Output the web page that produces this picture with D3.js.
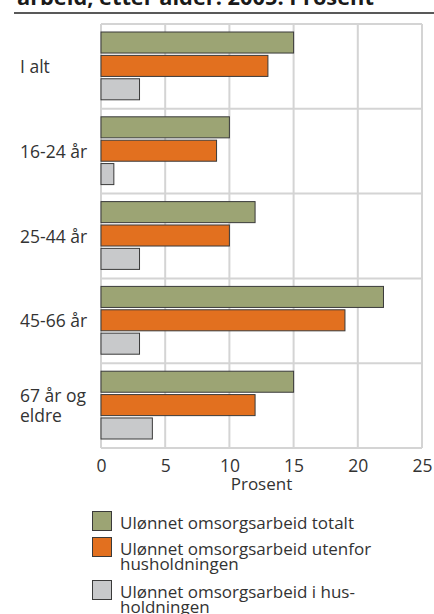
<!DOCTYPE html>
<html>
<head>
<meta charset="utf-8">
<script src="https://cdn.jsdelivr.net/npm/d3@7"></script>
<style>
  body { margin: 0; background: #fff; }
  svg { font-family: "Open Sans", sans-serif; }
</style>
</head>
<body>
<div id="chart"></div>
<script>
// age groups, top to bottom
const categories = ["I alt", "16-24 år", "25-44 år", "45-66 år", "67 år og eldre"];
const categoryLines = [["I alt"], ["16-24 år"], ["25-44 år"], ["45-66 år"], ["67 år og", "eldre"]];
const seriesNames = [
  "Ulønnet omsorgsarbeid totalt",
  "Ulønnet omsorgsarbeid utenfor husholdningen",
  "Ulønnet omsorgsarbeid i husholdningen"
];
const legendLines = [
  ["Ulønnet omsorgsarbeid totalt"],
  ["Ulønnet omsorgsarbeid utenfor", "husholdningen"],
  ["Ulønnet omsorgsarbeid i hus-", "holdningen"]
];
const totalt = [15, 10, 12, 22, 15];
const utenfor = [13, 9, 10, 19, 12];
const iHus = [3, 1, 3, 3, 4];
const xTicks = [0, 5, 10, 15, 20, 25];
const colors = ["#9ca474", "#e2701f", "#c8c9cb"];

const series = [totalt, utenfor, iHus];

const W = 434, H = 614;
const margin = {top: 24, left: 101, right: 12, bottom: 166};
const width = W - margin.left - margin.right;
const height = H - margin.top - margin.bottom;

const svg = d3.select("#chart").append("svg")
  .attr("width", W).attr("height", H);

// title, cut off at the top edge
svg.append("text")
  .attr("x", 17).attr("y", 4.5)
  .attr("font-size", 21.8).attr("font-weight", "bold").attr("fill", "#1a1a1a")
  .text("arbeid, etter alder. 2005. Prosent");
svg.append("line")
  .attr("x1", 14).attr("x2", W).attr("y1", 13).attr("y2", 13)
  .attr("stroke", "#222").attr("stroke-width", 1.5);

const g = svg.append("g")
  .attr("transform", "translate(" + margin.left + "," + margin.top + ")");

const x = d3.scaleLinear().domain([0, 25]).range([0, width]);
const y = d3.scaleBand().domain(categories).range([0, height]);
const inner = d3.scaleBand().domain(d3.range(series.length))
  .range([8, y.bandwidth() - 9]).paddingInner(0.1);

// grid
g.selectAll("line.vgrid").data(xTicks).enter().append("line")
  .attr("class", "vgrid")
  .attr("x1", d => x(d)).attr("x2", d => x(d))
  .attr("y1", 0).attr("y2", height)
  .attr("stroke", "#d4d4d4").attr("stroke-width", 2);
g.selectAll("line.hgrid").data(categories.map(c => y(c)).concat([height])).enter().append("line")
  .attr("class", "hgrid")
  .attr("x1", 0).attr("x2", width)
  .attr("y1", d => d).attr("y2", d => d)
  .attr("stroke", "#d4d4d4").attr("stroke-width", 2);

// bars
series.forEach(function(vals, si) {
  g.selectAll("rect.s" + si).data(vals).enter().append("rect")
    .attr("class", "s" + si)
    .attr("x", x(0))
    .attr("y", (d, i) => y(categories[i]) + inner(si))
    .attr("width", d => x(d) - x(0))
    .attr("height", inner.bandwidth())
    .attr("fill", colors[si])
    .attr("stroke", "#3a3a3a").attr("stroke-width", 1);
});

// category labels
categoryLines.forEach(function(lines, i) {
  const cy = y(categories[i]) + y.bandwidth() / 2;
  const t = svg.append("text")
    .attr("font-size", 17.5).attr("fill", "#333");
  const lh = 20;
  lines.forEach(function(s, j) {
    t.append("tspan")
      .attr("x", 20)
      .attr("y", margin.top + cy + 6.5 + (j - (lines.length - 1) / 2) * lh)
      .text(s);
  });
});

// x axis
const xAxis = d3.axisBottom(x).tickValues(xTicks).tickSize(0).tickPadding(12);
const ax = g.append("g")
  .attr("transform", "translate(0," + height + ")")
  .call(xAxis);
ax.select(".domain").remove();
ax.selectAll("text").attr("font-size", 17.5).attr("fill", "#333")
  .attr("font-family", "Open Sans, sans-serif");

svg.append("text")
  .attr("x", margin.left + width / 2).attr("y", 490)
  .attr("text-anchor", "middle")
  .attr("font-size", 17).attr("fill", "#333")
  .text("Prosent");

// legend
const legendTop = [511, 537, 580];
legendLines.forEach(function(lines, i) {
  svg.append("rect")
    .attr("x", 92.5).attr("y", legendTop[i] + 0.5)
    .attr("width", 19).attr("height", 19)
    .attr("fill", colors[i]).attr("stroke", "#3a3a3a").attr("stroke-width", 1);
  const t = svg.append("text").attr("font-size", 17).attr("fill", "#333");
  lines.forEach(function(s, j) {
    t.append("tspan").attr("x", 120).attr("y", legendTop[i] + 17.5 + j * 15).text(s);
  });
});
</script>
</body>
</html>
